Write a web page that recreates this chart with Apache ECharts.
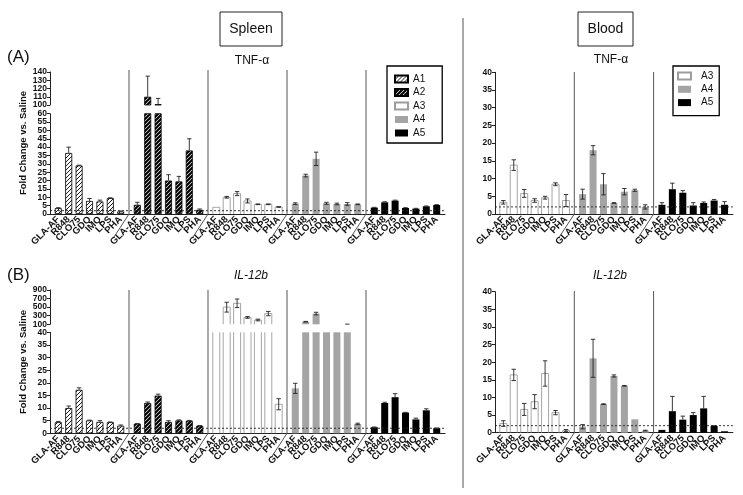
<!DOCTYPE html>
<html><head><meta charset="utf-8">
<script src="https://cdn.jsdelivr.net/npm/echarts@6/dist/echarts.min.js"></script>
<style>html,body{margin:0;padding:0;background:#fff}#c{width:743px;height:495px}</style>
</head><body><div id="c"></div>
<script>
const FONT = '"Liberation Sans", Arial, Helvetica, sans-serif';
const categories = ['GLA-AF', 'R848', 'CLO75', 'GDQ', 'IMQ', 'LPS', 'PHA'];
const thresholdLine = 2;

// Tick labels
const spleenTnfUpperTicks = [100, 110, 120, 130, 140];
const spleenTnfLowerTicks = [0, 5, 10, 15, 20, 25, 30, 35, 40, 45, 50, 55, 60];
const spleenIlUpperTicks = [100, 300, 500, 700, 900];
const spleenIlLowerTicks = [0, 5, 10, 15, 20, 25, 30, 35, 40];
const bloodTicks = [0, 5, 10, 15, 20, 25, 30, 35, 40];

// Spleen TNF-alpha
const spleenTnfA1 = [3.5, 36.5, 29, 7.8, 7.5, 9.5, 1.5];
const spleenTnfA1Err = [0.3, 3.5, 0.2, 1.5, 0.8, 0.2, 0.3];
const spleenTnfA2 = [5.5, 110, 101, 20, 19.5, 38, 2.5];
const spleenTnfA2Err = [1.5, 25, 7, 3.5, 3, 7, 0.5];
const spleenTnfA3 = [4, 10, 12.2, 7.8, 5.8, 5.8, 4.2];
const spleenTnfA3Err = [0, 0.5, 1.2, 1.2, 0.2, 0.2, 0.2];
const spleenTnfA4 = [6.2, 23, 33, 6.4, 6, 6, 5.8];
const spleenTnfA4Err = [0.5, 0.8, 4, 0.6, 0.5, 0.8, 0.2];
const spleenTnfA5 = [3.8, 7, 8, 3.6, 3.2, 4.6, 5.4];
const spleenTnfA5Err = [0.2, 0.3, 0.3, 0.2, 0.2, 0.2, 0.2];

// Spleen IL-12b
const spleenIlA1 = [4.4, 10, 17.2, 5.1, 4.5, 4.4, 3];
const spleenIlA1Err = [0.3, 0.8, 0.8, 0.1, 0.5, 0.1, 0.3];
const spleenIlA2 = [3.8, 12, 14.9, 4.5, 5.1, 5, 3];
const spleenIlA2Err = [0.1, 0.4, 0.6, 0.5, 0.2, 0.1, 0.1];
const spleenIlA3 = [70, 500, 590, 260, 200, 350, 11.5];
const spleenIlA3Err = [0, 115, 100, 20, 20, 50, 2.2];
const spleenIlA4 = [17.8, 160, 350, 70, 60, 98, 3.7];
const spleenIlA4Err = [2, 8, 30, 0, 0, 6, 0.3];
const spleenIlA5 = [2.4, 12, 14.3, 8.2, 5.5, 9.1, 2];
const spleenIlA5Err = [0.1, 0.3, 1.4, 0.1, 0.5, 0.6, 0.1];

// Blood TNF-alpha
const bloodTnfA3 = [3.3, 13.8, 5.8, 3.8, 4.6, 8.4, 3.8];
const bloodTnfA3Err = [0.5, 1.5, 1.1, 0.5, 0.4, 0.4, 1.7];
const bloodTnfA4 = [5.6, 18, 8.4, 3.1, 6.3, 6.7, 2];
const bloodTnfA4Err = [1.4, 1.3, 3, 0.1, 0.9, 0.3, 0.6];
const bloodTnfA5 = [2.6, 7, 6, 2.4, 3.1, 3.8, 2.6];
const bloodTnfA5Err = [0.6, 1.7, 0.6, 0.8, 0.3, 0.3, 0.9];

// Blood IL-12b
const bloodIlA3 = [2.6, 16.4, 6.6, 8.8, 16.8, 5.7, 0.6];
const bloodIlA3Err = [0.8, 1.6, 1.7, 2, 3.6, 0.6, 0.3];
const bloodIlA4 = [1.7, 21.1, 8.1, 16.1, 13.3, 3.8, 0.6];
const bloodIlA4Err = [0.6, 5.4, 0.1, 0.3, 0.1, 0, 0.1];
const bloodIlA5 = [0.8, 6.1, 3.7, 5, 6.9, 1.9, 0.4];
const bloodIlA5Err = [0, 4.2, 1, 0.7, 3.4, 0.1, 0];

function hatchPattern(lineW, size) {
  const c = document.createElement('canvas');
  c.width = size; c.height = size;
  const ctx = c.getContext('2d');
  ctx.fillStyle = '#fff'; ctx.fillRect(0, 0, size, size);
  ctx.strokeStyle = '#000'; ctx.lineWidth = lineW;
  ctx.beginPath();
  ctx.moveTo(-1, size + 1); ctx.lineTo(size + 1, -1);
  ctx.moveTo(-1, 1); ctx.lineTo(1, -1);
  ctx.moveTo(size - 1, size + 1); ctx.lineTo(size + 1, size - 1);
  ctx.stroke();
  return { image: c, repeat: 'repeat' };
}

const BAR_W = 7;
const A3_LINE = '#9c9c9c';
const styles = {
  A1: { itemStyle: { color: hatchPattern(0.9, 4), borderColor: '#000', borderWidth: 0.8 }, err: 'up' },
  A2: { itemStyle: { color: hatchPattern(2.2, 4), borderColor: '#000', borderWidth: 0.8 }, err: 'up' },
  A3: { itemStyle: { color: 'rgba(255,255,255,0)', borderColor: A3_LINE, borderWidth: 0.8 }, err: 'both', outline: true },
  A4: { itemStyle: { color: '#a4a4a4' }, err: 'both' },
  A5: { itemStyle: { color: '#000' }, err: 'up' }
};

const INSET = 3.1;
const panels = [
  { left: 50, gw: 79, groups: ['A1', 'A2', 'A3', 'A4', 'A5'], top: 70,
    data: [[spleenTnfA1, spleenTnfA1Err], [spleenTnfA2, spleenTnfA2Err], [spleenTnfA3, spleenTnfA3Err], [spleenTnfA4, spleenTnfA4Err], [spleenTnfA5, spleenTnfA5Err]],
    segments: [{ top: 72, bottom: 105, ticks: spleenTnfUpperTicks }, { top: 113.7, bottom: 214, ticks: spleenTnfLowerTicks, base: true }] },
  { left: 50, gw: 79, groups: ['A1', 'A2', 'A3', 'A4', 'A5'], top: 290,
    data: [[spleenIlA1, spleenIlA1Err], [spleenIlA2, spleenIlA2Err], [spleenIlA3, spleenIlA3Err], [spleenIlA4, spleenIlA4Err], [spleenIlA5, spleenIlA5Err]],
    segments: [{ top: 290, bottom: 324.3, ticks: spleenIlUpperTicks }, { top: 332.3, bottom: 433.3, ticks: spleenIlLowerTicks, base: true }] },
  { left: 495, gw: 79.3, groups: ['A3', 'A4', 'A5'], top: 72,
    data: [[bloodTnfA3, bloodTnfA3Err], [bloodTnfA4, bloodTnfA4Err], [bloodTnfA5, bloodTnfA5Err]],
    segments: [{ top: 72.3, bottom: 214, ticks: bloodTicks, base: true }] },
  { left: 495, gw: 79.3, groups: ['A3', 'A4', 'A5'], top: 291,
    data: [[bloodIlA3, bloodIlA3Err], [bloodIlA4, bloodIlA4Err], [bloodIlA5, bloodIlA5Err]],
    segments: [{ top: 291.7, bottom: 432.7, ticks: bloodTicks, base: true }] }
];

function errRender(mode) {
  return function (params, api) {
    const cs = params.coordSys;
    const idx = api.value(0), v = api.value(1), e = api.value(2);
    if (!e) return null;
    const top = api.coord([idx, v + e]);
    const mid = api.coord([idx, v]);
    const bot = mode === 'both' ? api.coord([idx, v - e]) : mid;
    const x = mid[0];
    const y0 = cs.y, y1 = cs.y + cs.height;
    const ya = top[1], yb = bot[1];
    if (yb < y0 || ya > y1) return null;
    const st = { stroke: '#222', lineWidth: 0.9 };
    const children = [{ type: 'line', shape: { x1: x, y1: Math.max(ya, y0), x2: x, y2: Math.min(yb, y1) }, style: st }];
    const hw = 2.2;
    if (ya >= y0 && ya <= y1) children.push({ type: 'line', shape: { x1: x - hw, y1: ya, x2: x + hw, y2: ya }, style: st });
    if (mode === 'both' && yb >= y0 && yb <= y1) children.push({ type: 'line', shape: { x1: x - hw, y1: yb, x2: x + hw, y2: yb }, style: st });
    return { type: 'group', children };
  };
}

// open outline bars (the white A3 bars), clipped to their segment without closing edges
function outlineRender(params, api) {
  const cs = params.coordSys;
  const idx = api.value(0), v = api.value(1);
  const top = api.coord([idx, v]);
  const base = api.coord([idx, 0]);
  const y0 = cs.y, y1 = cs.y + cs.height;
  if (top[1] > y1) return null;
  const xl = top[0] - BAR_W / 2, xr = top[0] + BAR_W / 2;
  const yt = Math.max(top[1], y0), yb = Math.min(base[1], y1);
  const st = { stroke: A3_LINE, lineWidth: 0.9, fill: null };
  const children = [
    { type: 'line', shape: { x1: xl, y1: yt, x2: xl, y2: yb }, style: st },
    { type: 'line', shape: { x1: xr, y1: yt, x2: xr, y2: yb }, style: st }
  ];
  if (top[1] >= y0) children.push({ type: 'line', shape: { x1: xl, y1: top[1], x2: xr, y2: top[1] }, style: st });
  return { type: 'group', children };
}

const option = { animation: false, backgroundColor: '#fff', grid: [], xAxis: [], yAxis: [], series: [] };
function addGrid(g) { option.grid.push(Object.assign({ containLabel: false, outerBoundsMode: 'none' }, g)); return option.grid.length - 1; }
function addX(a) { option.xAxis.push(a); return option.xAxis.length - 1; }
function addY(a) { option.yAxis.push(a); return option.yAxis.length - 1; }
const labelStyle = { showMinLabel: true, showMaxLabel: true, hideOverlap: false,
  fontSize: 8.5, fontWeight: 'bold', color: '#111', margin: 3, fontFamily: FONT };

const graphic = [];
panels.forEach(p => {
  const width = p.gw * p.groups.length;
  let baseY = 0;
  p.segments.forEach(seg => {
    const h = seg.bottom - seg.top;
    const ticks = seg.ticks;
    const ymin = ticks[0], ymax = ticks[ticks.length - 1];
    if (seg.base) baseY = seg.bottom;
    const fi = addGrid({ left: p.left, top: seg.top, width, height: h });
    const fx = addX({ type: 'value', gridIndex: fi, min: 0, max: 1,
      axisLine: { show: !!seg.base, onZero: false, lineStyle: { color: '#222', width: 1 } },
      axisTick: { show: false }, axisLabel: { show: false }, splitLine: { show: false } });
    // two label layers (alternate ticks) so that no tick label is dropped for crowding
    const evenTicks = ticks.filter((t, i) => i % 2 === 0);
    const oddTicks = ticks.filter((t, i) => i % 2 === 1);
    const fy = addY({ type: 'value', gridIndex: fi, min: ymin, max: ymax, position: 'left', offset: 0,
      axisLine: { show: true, onZero: false, lineStyle: { color: '#222', width: 1 } },
      axisTick: { show: true, length: 3, lineStyle: { color: '#222' }, customValues: ticks },
      axisLabel: Object.assign({ customValues: evenTicks }, labelStyle),
      splitLine: { show: false } });
    addY({ type: 'value', gridIndex: fi, min: ymin, max: ymax, position: 'left', offset: 0,
      axisLine: { show: false, onZero: false }, axisTick: { show: false },
      axisLabel: Object.assign({ customValues: oddTicks }, labelStyle),
      splitLine: { show: false } });
    if (seg.base) {
      option.series.push({ type: 'line', xAxisIndex: fx, yAxisIndex: fy, data: [[0, thresholdLine], [1, thresholdLine]],
        symbol: 'none', silent: true, z: 5, lineStyle: { type: [2, 2], width: 0.9, color: '#222' } });
    }
    p.groups.forEach((name, g) => {
      const gi = addGrid({ left: p.left + g * p.gw + INSET, top: seg.top, width: p.gw - 2 * INSET, height: h });
      const gx = addX({ type: 'category', gridIndex: gi, data: categories, boundaryGap: true, show: !!seg.base,
        axisLine: { show: false }, axisTick: { show: false },
        axisLabel: { interval: 0, rotate: 45, fontSize: 9.5, fontWeight: 'bold', color: '#111', margin: 4, fontFamily: FONT } });
      const gy = addY({ type: 'value', gridIndex: gi, show: false, min: ymin, max: ymax });
      const vals = p.data[g][0], errs = p.data[g][1];
      const sty = styles[name];
      if (sty.outline) {
        option.series.push({ type: 'bar', name, xAxisIndex: gx, yAxisIndex: gy, data: [], barWidth: BAR_W, itemStyle: sty.itemStyle, silent: true });
        option.series.push({ type: 'custom', name: name + ' bars', xAxisIndex: gx, yAxisIndex: gy,
          data: vals.map((v, i) => [i, v]), encode: { x: 0, y: 1 }, renderItem: outlineRender, z: 2, silent: true });
      } else {
        option.series.push({ type: 'bar', name, xAxisIndex: gx, yAxisIndex: gy, data: vals, barWidth: BAR_W, clip: true,
          itemStyle: sty.itemStyle, silent: true });
      }
      option.series.push({ type: 'custom', name: name + ' err', xAxisIndex: gx, yAxisIndex: gy,
        data: vals.map((v, i) => [i, v, errs[i]]), encode: { x: 0, y: 1 }, renderItem: errRender(sty.err), z: 3, silent: true });
    });
  });
  for (let g = 1; g < p.groups.length; g++) {
    const x = p.left + g * p.gw;
    graphic.push({ type: 'polyline', z: 10, shape: { points: [[x, p.top], [x, baseY], [x - 15, baseY + 23]] },
      style: { stroke: '#555', lineWidth: 1, fill: null } });
  }
});

function txt(text, x, y, extra) {
  return Object.assign({ type: 'text', x, y, z: 10, style: Object.assign({ text, fontFamily: FONT, fontSize: 12, fill: '#111', align: 'center', verticalAlign: 'middle', textAlign: 'center', textVerticalAlign: 'middle' }, extra || {}) });
}
graphic.push({ type: 'line', z: 10, shape: { x1: 463, y1: 18, x2: 463, y2: 488 }, style: { stroke: '#555', lineWidth: 1 } });
graphic.push({ type: 'rect', z: 10, shape: { x: 220, y: 12, width: 62, height: 34 }, style: { fill: 'none', stroke: '#222', lineWidth: 1 } });
graphic.push({ type: 'rect', z: 10, shape: { x: 578, y: 12, width: 55, height: 34 }, style: { fill: 'none', stroke: '#222', lineWidth: 1 } });
graphic.push(txt('Spleen', 251, 29, { fontSize: 14 }));
graphic.push(txt('Blood', 605.5, 29, { fontSize: 14 }));
graphic.push(txt('(A)', 7, 57, { fontSize: 17, align: 'left', textAlign: 'left' }));
graphic.push(txt('(B)', 7, 275, { fontSize: 17, align: 'left', textAlign: 'left' }));
graphic.push(txt('TNF-α', 252, 61, { fontSize: 12 }));
graphic.push(txt('TNF-α', 611, 60, { fontSize: 12 }));
graphic.push(txt('IL-12b', 251, 276, { fontSize: 12, fontStyle: 'italic' }));
graphic.push(txt('IL-12b', 610, 276, { fontSize: 12, fontStyle: 'italic' }));
graphic.push(Object.assign(txt('Fold Change vs. Saline', 23, 143, { fontSize: 9.5, fontWeight: 'bold' }), { rotation: Math.PI / 2 }));
graphic.push(Object.assign(txt('Fold Change vs. Saline', 23, 362, { fontSize: 9.5, fontWeight: 'bold' }), { rotation: Math.PI / 2 }));
option.graphic = graphic;

const legendBase = { orient: 'vertical', itemWidth: 13, itemHeight: 7, itemGap: 3.5, icon: 'rect', selectedMode: false,
  borderColor: '#000', borderWidth: 1.3, textStyle: { fontSize: 10, fontFamily: FONT, color: '#111' } };
option.legend = [
  Object.assign({}, legendBase, { data: ['A1', 'A2', 'A3', 'A4', 'A5'], left: 387, top: 66, padding: [8, 17, 5, 7] }),
  Object.assign({}, legendBase, { data: ['A3', 'A4', 'A5'], left: 673, top: 66, itemGap: 3.3, padding: [5, 6, 8, 4],
    textStyle: { fontSize: 10, fontFamily: FONT, color: '#111', padding: [0, 0, 0, 5] } })
];

const chart = echarts.init(document.getElementById('c'));
chart.setOption(option);
</script></body></html>
